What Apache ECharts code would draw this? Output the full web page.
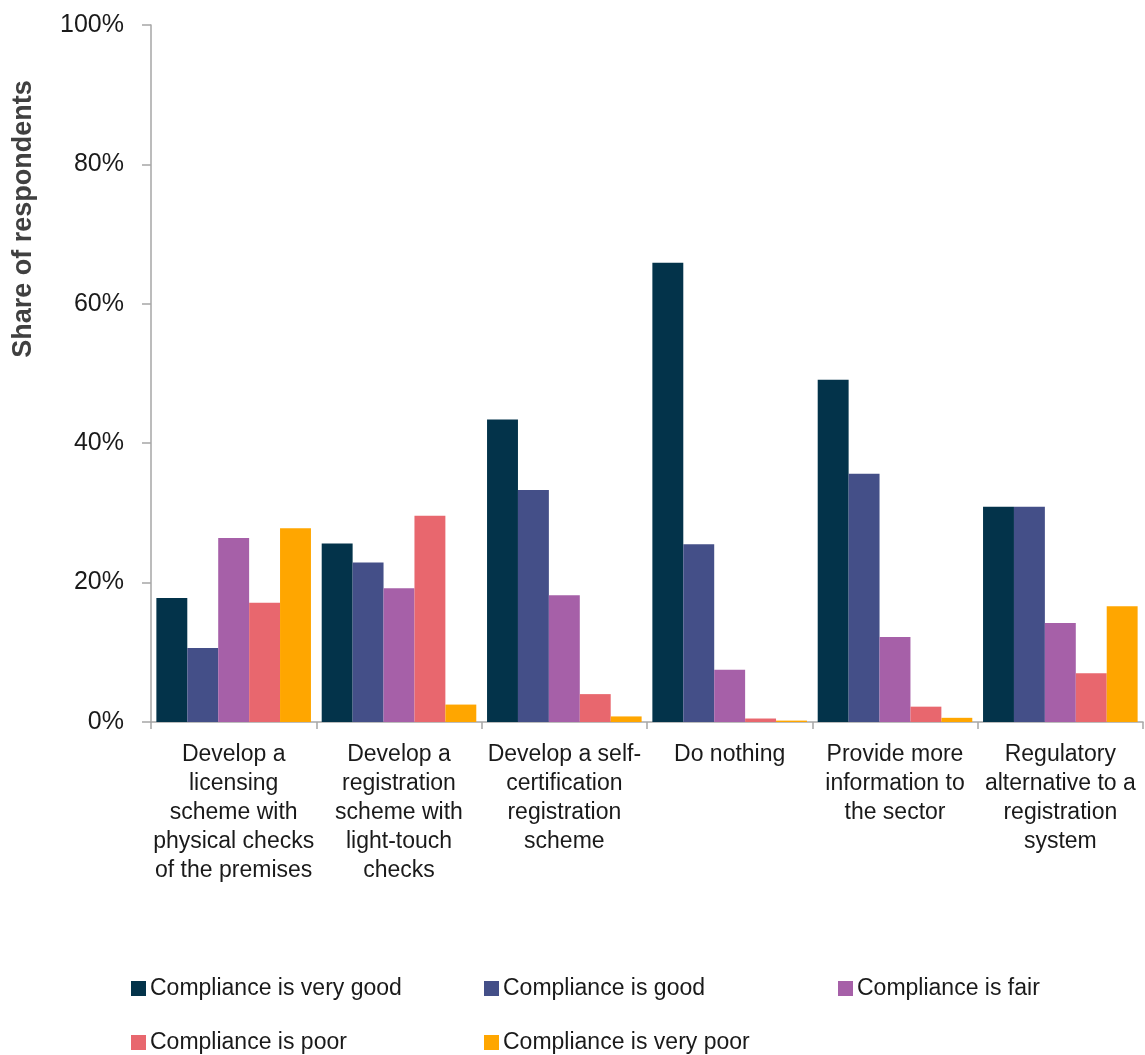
<!DOCTYPE html>
<html>
<head>
<meta charset="utf-8">
<script src="https://cdn.jsdelivr.net/npm/echarts@6/dist/echarts.min.js"></script>
<style>
html,body{margin:0;padding:0;background:#fff;}
#chart{width:1145px;height:1055px;}
</style>
</head>
<body>
<div id="chart"></div>
<script>
var categories = [
  "Develop a\nlicensing\nscheme with\nphysical checks\nof the premises",
  "Develop a\nregistration\nscheme with\nlight-touch\nchecks",
  "Develop a self-\ncertification\nregistration\nscheme",
  "Do nothing",
  "Provide more\ninformation to\nthe sector",
  "Regulatory\nalternative to a\nregistration\nsystem"
];
var seriesNames = [
  "Compliance is very good",
  "Compliance is good",
  "Compliance is fair",
  "Compliance is poor",
  "Compliance is very poor"
];
var veryGood = [17.8, 25.6, 43.4, 65.9, 49.1, 30.9];
var good     = [10.6, 22.9, 33.3, 25.5, 35.6, 30.9];
var fair     = [26.4, 19.2, 18.2, 7.5, 12.2, 14.2];
var poor     = [17.1, 29.6, 4.0, 0.5, 2.2, 7.0];
var veryPoor = [27.8, 2.5, 0.8, 0.2, 0.6, 16.6];
var yTicks = [0, 20, 40, 60, 80, 100];

var colors = ["#03334a", "#444f88", "#a660a8", "#e8676e", "#ffa600"];
var values = [veryGood, good, fair, poor, veryPoor];
var FONT = "'Liberation Sans', Arial, Helvetica, sans-serif";

var legendPos = [
  {left: 131, top: 977},
  {left: 484, top: 977},
  {left: 838, top: 977},
  {left: 131, top: 1031},
  {left: 484, top: 1031}
];

var chart = echarts.init(document.getElementById('chart'));
chart.setOption({
  animation: false,
  backgroundColor: '#ffffff',
  color: colors,
  textStyle: {fontFamily: FONT},
  grid: {left: 151, right: 2, top: 25, bottom: 333, containLabel: false},
  legend: seriesNames.map(function (n, i) {
    return {
      data: [n],
      left: legendPos[i].left,
      top: legendPos[i].top,
      padding: 0,
      icon: 'rect',
      itemWidth: 15,
      itemHeight: 15,
      selectedMode: false,
      textStyle: {fontFamily: FONT, fontSize: 23, color: '#1a1a1a', padding: [0, 0, 0, -1]}
    };
  }),
  xAxis: {
    type: 'category',
    data: categories,
    axisLine: {show: true, lineStyle: {color: '#a6a6a6', width: 1.5}},
    axisTick: {show: true, length: 7, lineStyle: {color: '#a6a6a6', width: 1.5}},
    axisLabel: {
      interval: 0,
      margin: 18,
      fontFamily: FONT,
      fontSize: 23,
      lineHeight: 29,
      color: '#1a1a1a',
      align: 'center'
    }
  },
  yAxis: {
    type: 'value',
    min: yTicks[0],
    max: yTicks[yTicks.length - 1],
    interval: 20,
    splitLine: {show: false},
    axisLine: {show: true, lineStyle: {color: '#a6a6a6', width: 1.5}},
    axisTick: {show: true, length: 9, lineStyle: {color: '#a6a6a6', width: 1.5}},
    axisLabel: {
      formatter: '{value}%',
      margin: 27,
      fontFamily: FONT,
      fontSize: 25,
      color: '#1a1a1a'
    }
  },
  graphic: [{
    type: 'text',
    x: 24,
    y: 219,
    rotation: Math.PI / 2,
    style: {
      text: 'Share of respondents',
      fontFamily: FONT,
      fontWeight: 'bold',
      fontSize: 27,
      fill: '#404040',
      textAlign: 'center',
      textVerticalAlign: 'middle'
    }
  }],
  series: seriesNames.map(function (n, i) {
    return {
      name: n,
      type: 'bar',
      data: values[i],
      barGap: '0%',
      barCategoryGap: '6.5%',
      itemStyle: {color: colors[i]}
    };
  })
});
</script>
</body>
</html>
